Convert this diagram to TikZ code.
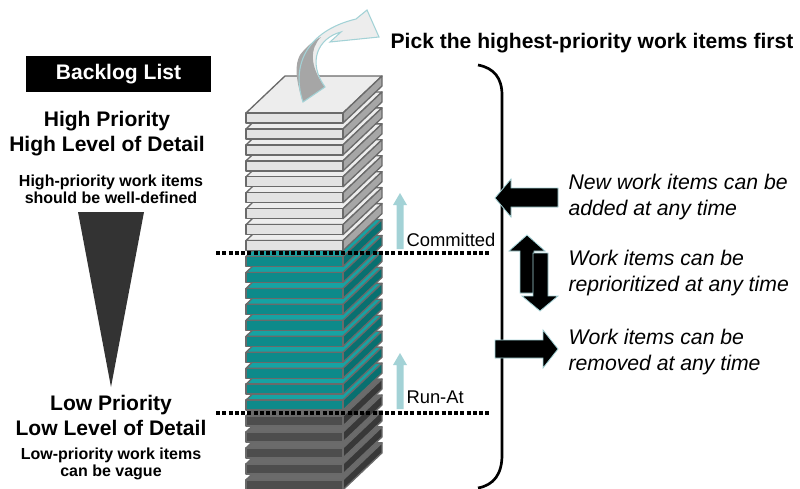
\documentclass[tikz,border=0pt]{standalone}
\usepackage{fontspec}
\setmainfont{Liberation Sans}

\definecolor{wtop}{HTML}{EDEDED}
\definecolor{wfront}{HTML}{E3E3E3}
\definecolor{wside}{HTML}{A6A6A6}
\definecolor{ttop}{HTML}{16A3A3}
\definecolor{tfront}{HTML}{0D8A8A}
\definecolor{tside}{HTML}{087070}
\definecolor{dtop}{HTML}{6B6B6B}
\definecolor{dfront}{HTML}{4D4D4D}
\definecolor{dside}{HTML}{383838}
\definecolor{plateline}{HTML}{6A6A6A}
\definecolor{paleblue}{HTML}{A3D2D6}
\definecolor{wedge}{HTML}{333333}

\tikzset{every picture/.style={line width=0.75pt}}
\tikzset{
  plate edge/.style={draw=plateline, line width=1pt, line join=round},
  cutline/.style={line width=3.2pt, dash pattern=on 3pt off 1.7pt},
  bigbold/.style={font=\fontsize{15.8}{18.75}\selectfont\bfseries, align=center, inner sep=0pt},
  smallbold/.style={font=\fontsize{12}{13}\selectfont\bfseries, align=center, inner sep=0pt},
  note/.style={font=\fontsize{15.9}{19.5}\selectfont\itshape, align=left, inner sep=0pt, anchor=west},
  marker/.style={font=\fontsize{13.8}{16}\selectfont, inner sep=0pt, anchor=west},
  blockarrow/.style={fill=black, draw=paleblue, line width=0.6pt, line join=miter},
  liftarrow/.style={fill=paleblue, draw=none}
}

\begin{document}
\begin{tikzpicture}[x=0.75pt,y=0.75pt,yscale=-1,xscale=1]
\useasboundingbox (0,0) rectangle (800,489);
\clip (0,0) rectangle (800,489);

% stack of work items, drawn from the bottom plate up
\foreach \k in {23,22,...,0}{
  \pgfmathsetmacro{\py}{113+15.95*\k}
  \ifnum\k<9 \def\tint{w}\else\ifnum\k<19 \def\tint{t}\else\def\tint{d}\fi\fi
  %Shape: top face
  \draw[plate edge, fill=\tint top] (246,\py) -- ++(39,-37) -- ++(97,0) -- ++(-39,37) -- cycle;
  %Shape: right face
  \draw[plate edge, fill=\tint side] (343,\py) -- ++(39,-37) -- ++(0,10) -- ++(-39,37) -- cycle;
  %Shape: front face
  \draw[plate edge, fill=\tint front] (246,\py) rectangle ++(97,10);
}

%Shape: curved arrow leaving the top of the stack
\fill[wtop]
  (303,102) .. controls (291,66) and (306,31) .. (356,19)
  -- (367,10) -- (379,37) -- (330,42) -- (341,32)
  .. controls (318,38) and (307,62) .. (325,87) -- cycle;
\fill[wside]
  (303,102) .. controls (295,78) and (295,64) .. (300,55)
  .. controls (306,47) and (313,41) .. (321,37)
  .. controls (310,48) and (309,66) .. (325,87) -- cycle;
\draw[draw=paleblue, line width=0.8pt]
  (303,102) .. controls (291,66) and (306,31) .. (356,19)
  -- (367,10) -- (379,37) -- (330,42) -- (341,32)
  .. controls (318,38) and (307,62) .. (325,87) -- cycle;

% limit lines
\draw[cutline] (216,253) -- (490,253);
\draw[cutline] (216,413) -- (490,413);

%Shape: pale arrows beside the stack
\fill[liftarrow] (400,193) -- (407,205) -- (403.5,205) -- (403.5,249) -- (396.5,249) -- (396.5,205) -- (393,205) -- cycle;
\fill[liftarrow] (400,353) -- (407,365) -- (403.5,365) -- (403.5,409) -- (396.5,409) -- (396.5,365) -- (393,365) -- cycle;

% Text Node
\node[marker] (committed) at (406,240) {Committed};
% Text Node
\node[marker] (runat) at (406,397) {Run-At};

%Shape: bracket round the stack
\draw[line width=2pt] (478,65) .. controls (494,68) and (502,78) .. (502,95) -- (502,455) .. controls (502,474) and (494,485) .. (478,488);

%Shape: add / reorder / remove arrows
\draw[blockarrow] (495,198) -- (511,179) -- (511,188) -- (558,188) -- (558,207) -- (511,207) -- (511,217) -- cycle;
\draw[blockarrow] (527,235) -- (545,251) -- (534,251) -- (534,293) -- (520,293) -- (520,251) -- (509,251) -- cycle;
\draw[blockarrow] (533,253) -- (548,253) -- (548,296) -- (558,296) -- (540,311) -- (522,296) -- (533,296) -- cycle;
\draw[blockarrow] (495,340) -- (543,340) -- (543,330) -- (558,349) -- (543,368) -- (543,358) -- (495,358) -- cycle;

% Text Node
\node[bigbold] (pick) at (592,43) {Pick the highest-priority work items first};
% Text Node
\node[note] (added) at (568,197) {New work items can be\\added at any time};
% Text Node
\node[note] (reorder) at (568,273) {Work items can be\\reprioritized at any time};
% Text Node
\node[note] (removed) at (568,352) {Work items can be\\removed at any time};

%Shape: title box
\fill[black] (26,56) rectangle (211,92);
% Text Node
\node[bigbold, text=white] (backlog) at (118.5,74) {Backlog List};
% Text Node
\node[bigbold] (high) at (107,134) {High Priority\\High Level of Detail};
% Text Node
\node[smallbold] (highnote) at (111,189) {High-priority work items\\should be well-defined};

%Shape: detail wedge
\fill[wedge] (78,212) -- (144,212) -- (111,387) -- cycle;

% Text Node
\node[bigbold] (low) at (111,415) {Low Priority\\Low Level of Detail};
% Text Node
\node[smallbold] (lownote) at (111,464) {Low-priority work items\\can be vague};

\end{tikzpicture}
\end{document}
